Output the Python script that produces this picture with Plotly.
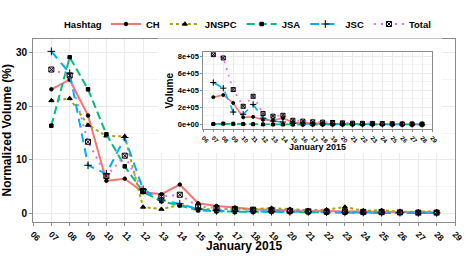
import plotly.graph_objects as go

# ---------------- data ----------------
days = [7, 8, 9, 10, 11, 12, 13, 14, 15, 16, 17, 18, 19, 20, 21, 22, 23, 24, 25, 26, 27, 28]
day_ticks = [6, 7, 8, 9, 10, 11, 12, 13, 14, 15, 16, 17, 18, 19, 20, 21, 22, 23, 24, 25, 26, 27, 28, 29]
day_labels = ["06", "07", "08", "09", "10", "11", "12", "13", "14", "15", "16", "17",
              "18", "19", "20", "21", "22", "23", "24", "25", "26", "27", "28", "29"]

series_names = ["CH", "JNSPC", "JSA", "JSC", "Total"]

# normalized volume (%) - main chart
ch_pct = [23.2, 25.0, 18.3, 6.1, 6.5, 4.0, 3.6, 5.4, 1.9, 1.4, 1.1, 0.8, 0.7, 0.55, 0.45, 0.4, 0.35, 0.3, 0.3, 0.25, 0.2, 0.2]
jnspc_pct = [21.1, 21.5, 16.5, 14.5, 14.4, 1.2, 0.8, 1.6, 0.9, 0.7, 0.9, 0.8, 1.0, 0.8, 0.6, 0.7, 1.2, 0.5, 0.6, 0.3, 0.3, 0.4]
jsa_pct = [16.4, 29.2, 23.2, 14.8, 8.8, 4.0, 2.3, 1.5, 0.6, 0.4, 0.3, 0.3, 0.3, 0.25, 0.2, 0.15, 0.15, 0.1, 0.1, 0.1, 0.1, 0.1]
jsc_pct = [30.3, 26.2, 9.0, 7.4, 14.2, 4.5, 2.5, 1.8, 0.8, 0.5, 0.4, 0.4, 0.35, 0.3, 0.3, 0.25, 0.2, 0.2, 0.15, 0.15, 0.1, 0.1]
total_pct = [26.9, 25.8, 13.4, 7.0, 10.8, 4.2, 3.2, 3.5, 1.3, 1.0, 0.8, 0.7, 0.6, 0.5, 0.4, 0.35, 0.35, 0.3, 0.25, 0.2, 0.15, 0.15]

# raw volume - inset chart
ch_vol = [320000, 345000, 252000, 84000, 90000, 55000, 50000, 74000, 26000, 19000, 15000, 11000, 10000, 8000, 6000, 5500, 5000, 4000, 4000, 3500, 3000, 2500]
jnspc_vol = [6300, 6500, 5000, 4400, 4300, 360, 240, 480, 270, 210, 270, 240, 300, 240, 180, 210, 360, 150, 180, 90, 90, 120]
jsa_vol = [6600, 11700, 9300, 5900, 3500, 1600, 920, 600, 240, 160, 120, 120, 120, 100, 80, 60, 60, 40, 40, 40, 40, 40]
jsc_vol = [490000, 425000, 146000, 120000, 235000, 75000, 40000, 29000, 13000, 8000, 6500, 6500, 5700, 4900, 4900, 4000, 3200, 3200, 2400, 2400, 1600, 1600]
total_vol = [816000, 777000, 408000, 213000, 330000, 128000, 97000, 108000, 50000, 40000, 32000, 28000, 24000, 20000, 16000, 14000, 13000, 11000, 9000, 7000, 6000, 5000]

pct_ticks = [0, 10, 20, 30]
pct_labels = ["0", "10", "20", "30"]
vol_ticks = [0, 200000, 400000, 600000, 800000]
vol_labels = ["0e+00", "2e+05", "4e+05", "6e+05", "8e+05"]

# ---------------- styles ----------------
pct_data = [ch_pct, jnspc_pct, jsa_pct, jsc_pct, total_pct]
vol_data = [ch_vol, jnspc_vol, jsa_vol, jsc_vol, total_vol]
colors = ["#F8766D", "#A3A500", "#00BF7D", "#00B0F6", "#E76BF3"]
dashes = ["solid", "3px,3px", "8px,4px", "9px,6px", "2px,5px"]
symbols = ["circle", "triangle-up", "square", "cross-thin-open", "square-x-open"]
msizes = [3.5, 4.5, 3.5, 5.5, 5]
inset_msizes = [3, 3.5, 3, 4.5, 4]

FONT = "Liberation Sans, Arial, Helvetica, sans-serif"
GRID = "#ebebeb"
MINOR = "#f4f4f4"
AXC = "#8c8c8c"

fig = go.Figure()

for name, vals, col, dash, sym, ms in zip(series_names, pct_data, colors, dashes, symbols, msizes):
    fig.add_trace(go.Scatter(
        x=days, y=vals, name=name, mode="lines+markers",
        line=dict(color=col, width=2, dash=dash),
        marker=dict(color="black", symbol=sym, size=ms, line=dict(color="black", width=1)),
        xaxis="x", yaxis="y", legendgroup=name,
    ))

# white backdrop subplot for the inset (no data)
fig.add_trace(go.Scatter(x=[], y=[], xaxis="x2", yaxis="y2", showlegend=False, hoverinfo="skip"))

for name, vals, col, dash, sym, ms in zip(series_names, vol_data, colors, dashes, symbols, inset_msizes):
    fig.add_trace(go.Scatter(
        x=days, y=vals, name=name, mode="lines+markers",
        line=dict(color=col, width=1.6, dash=dash),
        marker=dict(color="black", symbol=sym, size=ms, line=dict(color="black", width=1)),
        xaxis="x3", yaxis="y3", legendgroup=name, showlegend=False,
    ))

W, H = 465, 256
ML, MR, MT, MB = 33, 10, 38, 34
pw, ph = W - ML - MR, H - MT - MB


def px_x(p):
    return (p - ML) / pw


def px_y(p):
    return (H - MB - p) / ph


fig.update_layout(
    width=W, height=H, autosize=False,
    margin=dict(l=ML, r=MR, t=MT, b=MB, pad=0),
    paper_bgcolor="white", plot_bgcolor="white",
    font=dict(family=FONT, color="black"),
    showlegend=True,
    legend=dict(
        orientation="h", xref="container", yref="container",
        x=106 / W, xanchor="left", y=1 - 24 / H, yanchor="middle",
        font=dict(size=9.5, weight="bold"), itemwidth=30, tracegroupgap=0,
        entrywidthmode="pixels", entrywidth=0,
        bgcolor="rgba(0,0,0,0)",
    ),
    xaxis=dict(
        domain=[0, 1], range=[6, 29], anchor="y", automargin=False,
        tickmode="array", tickvals=day_ticks, ticktext=day_labels, tickangle=45,
        tickfont=dict(size=8.5, weight="bold"),
        ticks="outside", ticklen=3, tickcolor=AXC,
        showline=True, linecolor=AXC, linewidth=1, mirror=True,
        showgrid=True, gridcolor=GRID, zeroline=False,
    ),
    yaxis=dict(
        domain=[0, 1], range=[-1.6, 32.7], anchor="x", automargin=False,
        tickmode="array", tickvals=pct_ticks, ticktext=pct_labels,
        tickfont=dict(size=10, weight="bold"),
        ticks="outside", ticklen=3, tickcolor=AXC,
        showline=True, linecolor=AXC, linewidth=1, mirror=True,
        showgrid=True, gridcolor=GRID, zeroline=False,
        minor=dict(dtick=5, tick0=0, showgrid=True, gridcolor=MINOR, ticks=""),
        title=dict(text="Normalized Volume (%)", font=dict(size=12, weight="bold"), standoff=4),
    ),
    xaxis2=dict(domain=[px_x(158), px_x(442)], anchor="y2", visible=False, range=[0, 1], automargin=False),
    yaxis2=dict(domain=[px_y(153), 1], anchor="x2", visible=False, range=[0, 1], automargin=False),
    xaxis3=dict(
        domain=[px_x(203.4), px_x(432)], range=[6, 29], anchor="y3", automargin=False,
        tickmode="array", tickvals=day_ticks, ticktext=day_labels, tickangle=45,
        tickfont=dict(size=6, weight="bold"),
        ticks="outside", ticklen=2, tickcolor=AXC,
        showline=True, linecolor=AXC, linewidth=1, mirror=True,
        showgrid=True, gridcolor=GRID, zeroline=False,
    ),
    yaxis3=dict(
        domain=[px_y(129), px_y(51.7)], range=[-55000, 845000], anchor="x3", automargin=False,
        tickmode="array", tickvals=vol_ticks, ticktext=vol_labels,
        tickfont=dict(size=7.5, weight="bold"),
        ticks="outside", ticklen=2, tickcolor=AXC,
        showline=True, linecolor=AXC, linewidth=1, mirror=True,
        showgrid=True, gridcolor=GRID, zeroline=False,
        minor=dict(dtick=100000, tick0=0, showgrid=True, gridcolor=MINOR, ticks=""),
        title=dict(text="Volume", font=dict(size=10, weight="bold"), standoff=2),
    ),
    annotations=[
        dict(text="Hashtag", xref="paper", yref="paper", x=px_x(104), y=px_y(24),
             xanchor="right", yanchor="middle", showarrow=False,
             font=dict(size=9.5, weight="bold")),
        dict(text="January 2015", xref="paper", yref="paper", x=0.5, y=px_y(246),
             xanchor="center", yanchor="middle", showarrow=False,
             font=dict(size=12, weight="bold")),
        dict(text="January 2015", xref="paper", yref="paper",
             x=(px_x(203.4) + px_x(432)) / 2, y=px_y(147),
             xanchor="center", yanchor="middle", showarrow=False,
             font=dict(size=9, weight="bold")),
    ],
)

fig.write_html("out.html", config={"displayModeBar": False},
               post_script="document.body.style.margin='0';document.body.style.padding='0';")
